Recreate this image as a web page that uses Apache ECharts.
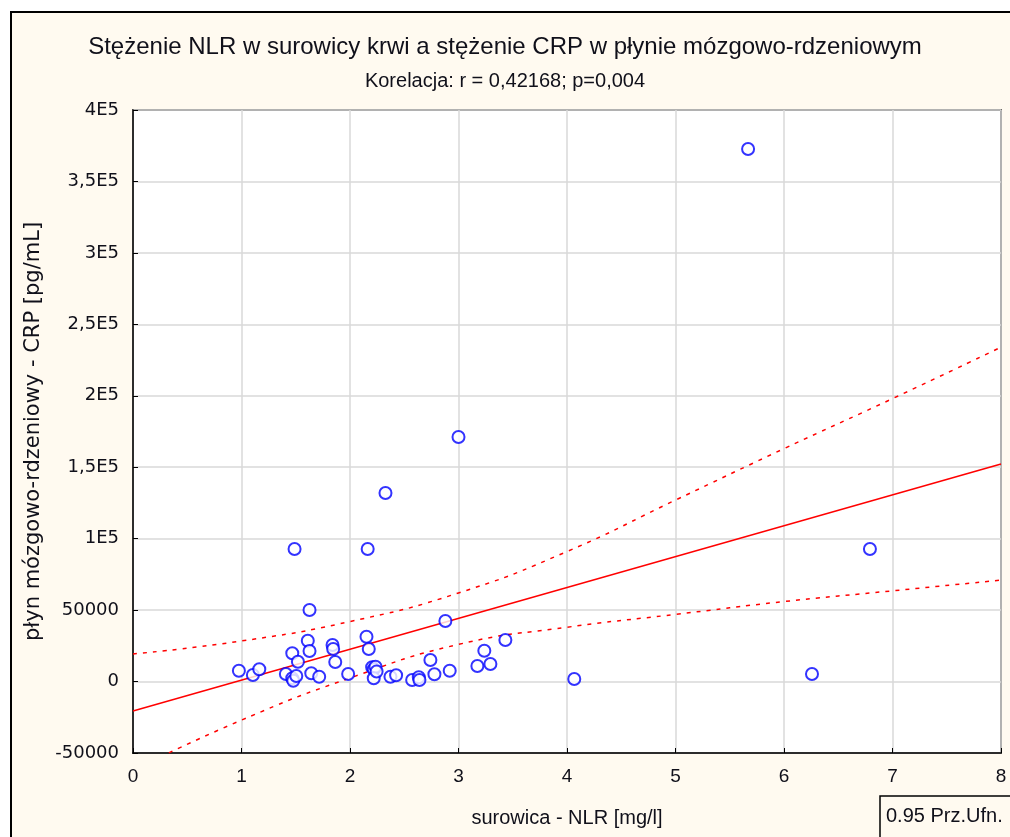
<!DOCTYPE html>
<html>
<head>
<meta charset="utf-8">
<script src="https://cdn.jsdelivr.net/npm/echarts@6/dist/echarts.min.js"></script>
<style>
html,body{margin:0;padding:0;background:#ffffff;}
#frame{position:absolute;left:10px;top:11px;width:1010px;height:840px;border-left:2px solid #000;border-top:2px solid #000;background:#fffaf0;}
#chart{position:absolute;left:0;top:0;width:1010px;height:837px;}
</style>
</head>
<body>
<div id="frame"></div>
<div id="chart"></div>
<script>
// ---- data ----
const nlr = [0.976, 1.105, 1.164, 1.409, 1.468, 1.477, 1.505, 1.468, 1.52, 1.489, 1.611, 1.627, 1.627, 1.643, 1.716,
  1.839, 1.845, 1.864, 1.983, 2.152, 2.163, 2.173, 2.204, 2.219, 2.235, 2.219, 2.245, 2.327, 2.373, 2.425,
  2.573, 2.634, 2.64, 2.741, 2.778, 2.879, 2.919, 3.0, 3.174, 3.238, 3.294, 3.432, 4.067, 5.669, 6.258, 6.792];
const crp = [7600, 4600, 8600, 5300, 2300, 600, 3900, 19800, 13900, 92800, 28600, 21400, 50100, 5800, 3400,
  25600, 22800, 13700, 5300, 31400, 92800, 22800, 10000, 8600, 10400, 2300, 7000, 132000, 3400, 4400,
  1100, 3000, 1100, 15100, 5100, 42400, 7600, 171200, 10900, 21600, 12300, 29100, 1800, 372700, 5300, 92800];

const fitX = [0, 8];
const fitY = [-20600, 152300];
const bandX = [0, 1, 2, 3, 4, 5, 6, 7, 8];
const upperY = [19300, 28400, 42000, 62000, 91000, 127000, 163000, 198000, 234000];
const lowerY = [-62000, -27000, 2500, 26000, 38000, 47000, 56000, 63500, 71000];

const xTicks = [0, 1, 2, 3, 4, 5, 6, 7, 8];
const yTickValues = [-50000, 0, 50000, 100000, 150000, 200000, 250000, 300000, 350000, 400000];
const yTickLabels = ['-50000', '0', '50000', '1E5', '1,5E5', '2E5', '2,5E5', '3E5', '3,5E5', '4E5'];

const titleText = 'Stężenie NLR w surowicy krwi a stężenie CRP w płynie mózgowo-rdzeniowym';
const subText = 'Korelacja: r = 0,42168; p=0,004';
const xName = 'surowica - NLR [mg/l]';
const yName = 'płyn mózgowo-rdzeniowy - CRP [pg/mL]';
const legendText = '0.95 Prz.Ufn.';

const pts = nlr.map((x, i) => [x, crp[i]]);
const fit = fitX.map((x, i) => [x, fitY[i]]);
const up = bandX.map((x, i) => [x, upperY[i]]);
const lo = bandX.map((x, i) => [x, lowerY[i]]);

const chart = echarts.init(document.getElementById('chart'), null, {renderer: 'canvas'});

chart.setOption({
  backgroundColor: 'transparent',
  animation: false,
  title: [
    {text: titleText, left: 'center', top: 30,
     textStyle: {fontFamily: 'Liberation Sans', fontSize: 24, fontWeight: 'normal', color: '#10101a'}},
    {text: subText, left: 'center', top: 66,
     textStyle: {fontFamily: 'Liberation Sans', fontSize: 20, fontWeight: 'normal', color: '#10101a'}}
  ],
  grid: {left: 133, right: 9, top: 110, bottom: 84, show: true, backgroundColor: '#ffffff',
         borderColor: '#000', borderWidth: 1.5, containLabel: false},
  xAxis: {
    type: 'value', min: 0, max: 8, interval: 1,
    name: xName, nameLocation: 'middle', nameGap: 55,
    nameTextStyle: {fontFamily: 'Liberation Sans', fontSize: 20, color: '#10101a'},
    axisLine: {show: true, onZero: false, lineStyle: {color: '#000', width: 1.5}},
    axisTick: {show: true, inside: true, length: 5, lineStyle: {color: '#000'}},
    axisLabel: {margin: 14, formatter: v => String(v), fontFamily: 'Liberation Sans', fontSize: 19, color: '#10101a'},
    splitLine: {show: true, lineStyle: {color: '#d9d9d9', width: 1.5}}
  },
  yAxis: {
    type: 'value', min: -50000, max: 400000, interval: 50000,
    name: yName, nameLocation: 'middle', nameGap: 86, nameRotate: 90,
    nameTextStyle: {fontFamily: 'DejaVu Sans', fontSize: 21, color: '#10101a'},
    axisLine: {show: true, onZero: false, lineStyle: {color: '#000', width: 1.5}},
    axisTick: {show: true, inside: true, length: 5, lineStyle: {color: '#000'}},
    axisLabel: {margin: 14, fontFamily: 'DejaVu Sans', fontSize: 18, color: '#10101a', formatter: v => {
      const i = yTickValues.indexOf(v); return i >= 0 ? yTickLabels[i] : '';
    }},
    splitLine: {show: true, lineStyle: {color: '#d9d9d9', width: 1.5}}
  },
  graphic: [
    {type: 'rect', shape: {x: 880, y: 796, width: 140, height: 50},
     style: {fill: '#fffaf0', stroke: '#000', lineWidth: 1.5}, z: 100},
    {type: 'text', x: 886, y: 806, style: {text: legendText, fontFamily: 'Liberation Sans', fontSize: 20, fill: '#10101a'}, z: 101}
  ],
  series: [
    {type: 'line', data: up, smooth: true, symbol: 'none', clip: true,
     lineStyle: {color: '#ff0000', width: 1.5, type: [4, 6]}, z: 2},
    {type: 'line', data: lo, smooth: true, symbol: 'none', clip: true,
     lineStyle: {color: '#ff0000', width: 1.5, type: [4, 6]}, z: 2},
    {type: 'line', data: fit, symbol: 'none', clip: true,
     lineStyle: {color: '#ff0000', width: 1.5}, z: 3},
    {type: 'scatter', data: pts, symbol: 'emptyCircle', symbolSize: 12,
     itemStyle: {color: '#0000ff', borderColor: '#0000ff', borderWidth: 1.5}, z: 4}
  ]
});
</script>
</body>
</html>
